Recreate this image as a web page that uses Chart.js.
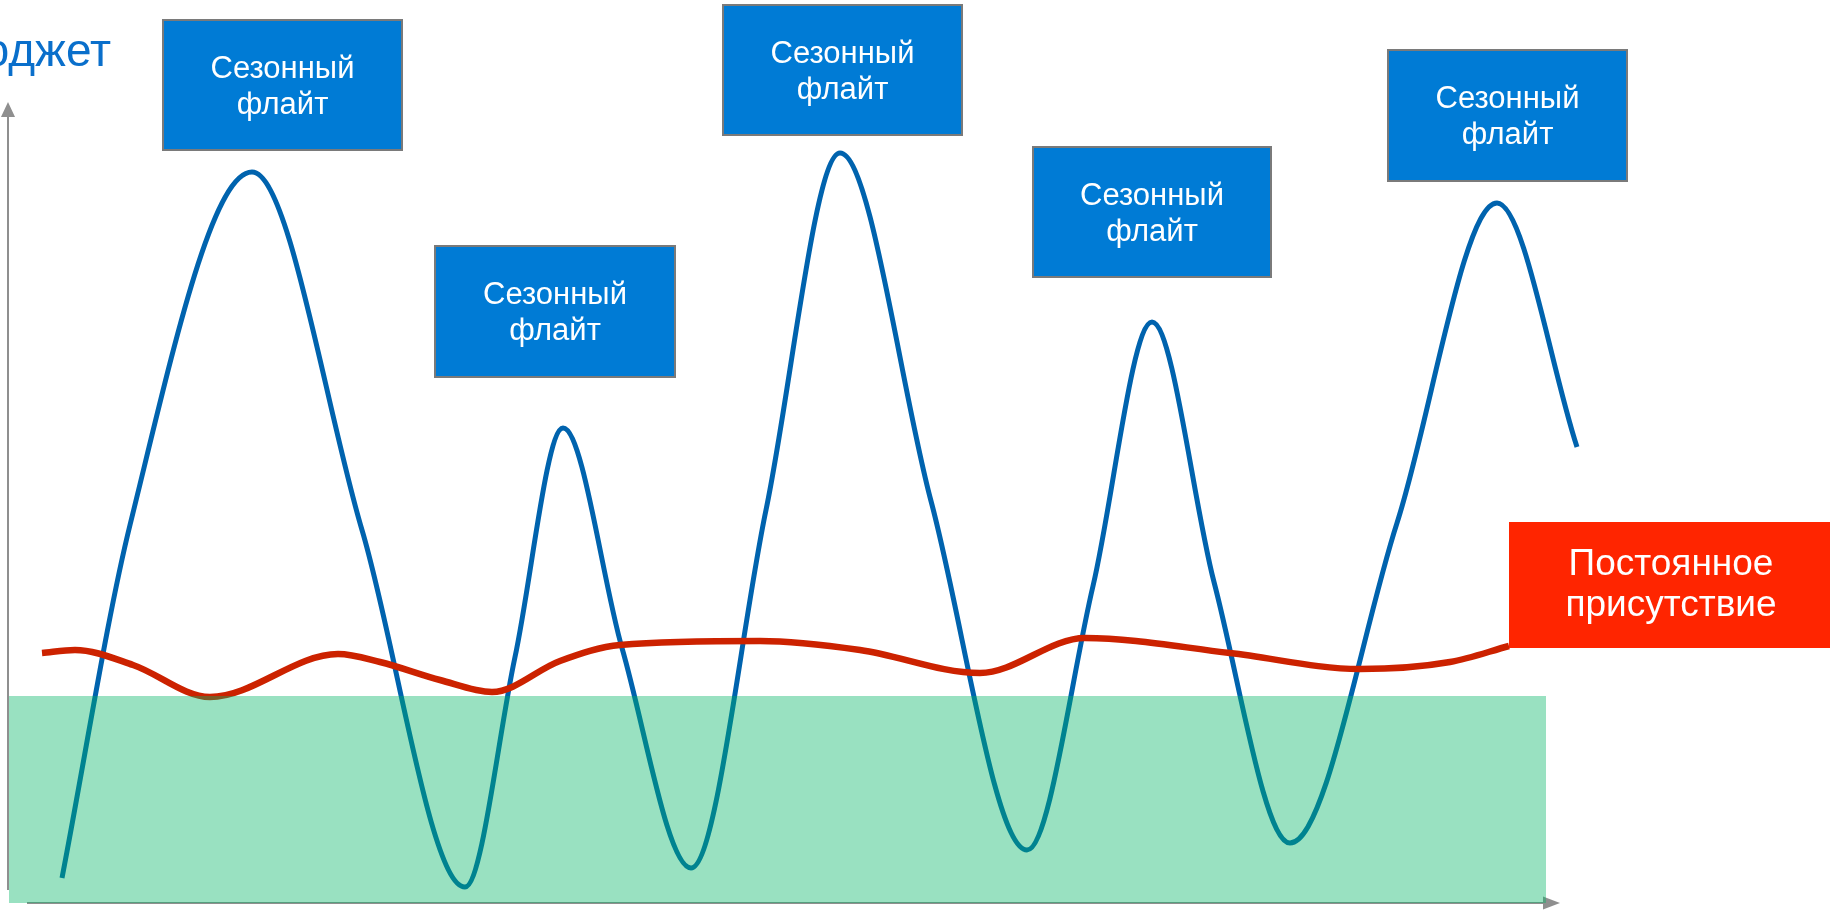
<!DOCTYPE html>
<html>
<head>
<meta charset="utf-8">
<script src="https://cdn.jsdelivr.net/npm/chart.js@4.4.1/dist/chart.umd.min.js"></script>
<style>
html,body{margin:0;padding:0;background:#ffffff;overflow:hidden}
#wrap{position:relative;width:1830px;height:910px}
</style>
</head>
<body>
<div id="wrap"><canvas id="c"></canvas></div>
<script>
// ---- data (x = time, y = budget; abstract units) ----
const seasonalX = [6.2, 13.0, 25.2, 36.2, 46.5, 51.5, 56.3, 62.2, 69.1, 76.6, 84.0, 93.1, 102.7, 109.3, 115.2, 121.4, 129.0, 139.7, 149.7, 157.7];
const seasonalY = [3.2, 38.5, 73.8, 38.0, 2.3, 25.3, 48.2, 26.2, 4.2, 40.0, 75.7, 40.9, 6.0, 32.4, 58.8, 32.8, 6.7, 38.7, 70.7, 46.3];
const constantX = [4.2, 7.5, 13.3, 21.0, 33.8, 38.0, 44.0, 49.2, 56.0, 62.0, 76.0, 86.0, 98.0, 108.5, 123.0, 136.0, 145.0, 150.9];
const constantY = [25.7, 26.0, 24.5, 21.3, 25.6, 24.8, 23.0, 21.8, 24.9, 26.5, 26.9, 26.0, 23.7, 27.2, 25.7, 24.1, 24.8, 26.4];
const baseZoneX = [0.9, 154.6];
const baseZoneY = [21.4, 21.4];
const baseZoneFloor = 0.7;
const flightLabels = [['Сезонный', 'флайт'], ['Сезонный', 'флайт'], ['Сезонный', 'флайт'], ['Сезонный', 'флайт'], ['Сезонный', 'флайт']];
const constantLabel = ['Постоянное', 'присутствие'];
const axisTitle = 'Бюджет';

// ---- layout of the annotation boxes (pixels) ----
const flightBoxes = [
  {x: 163, y: 20, w: 239, h: 130},
  {x: 435, y: 246, w: 240, h: 131},
  {x: 723, y: 5, w: 239, h: 130},
  {x: 1033, y: 147, w: 238, h: 130},
  {x: 1388, y: 50, w: 239, h: 131}
];
const constantBox = {x: 1509, y: 522, w: 340, h: 126};

const toPts = (xs, ys) => xs.map((x, i) => ({x: x, y: ys[i]}));

const decor = {
  id: 'decor',
  beforeDatasetsDraw(chart) {
    const ctx = chart.ctx, sx = chart.scales.x, sy = chart.scales.y;
    const ax = sx.getPixelForValue(0.8);
    const ay = sy.getPixelForValue(0.7);
    ctx.save();
    ctx.strokeStyle = '#8f8f8f';
    ctx.fillStyle = '#8f8f8f';
    ctx.lineWidth = 2;
    // y axis
    ctx.beginPath();
    ctx.moveTo(ax, sy.getPixelForValue(2.0));
    ctx.lineTo(ax, sy.getPixelForValue(79.5));
    ctx.stroke();
    ctx.beginPath();
    ctx.moveTo(ax, sy.getPixelForValue(80.8));
    ctx.lineTo(ax - 7, sy.getPixelForValue(79.3));
    ctx.lineTo(ax + 7, sy.getPixelForValue(79.3));
    ctx.closePath();
    ctx.fill();
    // x axis
    const xEnd = sx.getPixelForValue(154.4);
    ctx.beginPath();
    ctx.moveTo(sx.getPixelForValue(2.7), ay);
    ctx.lineTo(xEnd, ay);
    ctx.stroke();
    ctx.beginPath();
    ctx.moveTo(sx.getPixelForValue(156.0), ay);
    ctx.lineTo(sx.getPixelForValue(154.3), ay - 6.5);
    ctx.lineTo(sx.getPixelForValue(154.3), ay + 6.5);
    ctx.closePath();
    ctx.fill();
    ctx.restore();
  },
  afterDatasetsDraw(chart) {
    const ctx = chart.ctx;
    ctx.save();
    // axis title (clipped at the left edge as in the original)
    ctx.fillStyle = '#0A6FCB';
    ctx.font = '46px "Liberation Sans", Arial, sans-serif';
    ctx.textAlign = 'right';
    ctx.textBaseline = 'alphabetic';
    ctx.fillText(axisTitle, 111, 66);
    // seasonal flight boxes
    ctx.textAlign = 'center';
    ctx.textBaseline = 'middle';
    flightBoxes.forEach((b, i) => {
      ctx.fillStyle = '#007BD5';
      ctx.fillRect(b.x, b.y, b.w, b.h);
      ctx.strokeStyle = '#7a7a7a';
      ctx.lineWidth = 2;
      ctx.strokeRect(b.x, b.y, b.w, b.h);
      ctx.fillStyle = '#ffffff';
      ctx.font = '31px "Liberation Sans", Arial, sans-serif';
      const cx = b.x + b.w / 2, cy = b.y + b.h / 2;
      ctx.fillText(flightLabels[i][0], cx, cy - 16);
      ctx.fillText(flightLabels[i][1], cx, cy + 20);
    });
    // constant presence box
    const c = constantBox;
    ctx.fillStyle = '#FF2500';
    ctx.fillRect(c.x, c.y, c.w, c.h);
    ctx.fillStyle = '#ffffff';
    ctx.font = '37px "Liberation Sans", Arial, sans-serif';
    ctx.fillText(constantLabel[0], 1671, c.y + c.h / 2 - 20);
    ctx.fillText(constantLabel[1], 1671, c.y + c.h / 2 + 21);
    ctx.restore();
  }
};

new Chart(document.getElementById('c'), {
  type: 'scatter',
  data: {
    datasets: [
      {
        label: 'base',
        data: toPts(baseZoneX, baseZoneY),
        showLine: true,
        borderWidth: 0,
        borderColor: 'rgba(0,0,0,0)',
        backgroundColor: 'rgba(0,180,100,0.4)',
        fill: {value: baseZoneFloor},
        pointRadius: 0,
        tension: 0,
        order: 0
      },
      {
        label: 'constant',
        data: toPts(constantX, constantY),
        showLine: true,
        borderColor: '#CC2200',
        borderWidth: 6.5,
        pointRadius: 0,
        cubicInterpolationMode: 'monotone',
        fill: false,
        order: 1
      },
      {
        label: 'seasonal',
        data: toPts(seasonalX, seasonalY),
        showLine: true,
        borderColor: '#0063AE',
        borderWidth: 5,
        pointRadius: 0,
        cubicInterpolationMode: 'monotone',
        fill: false,
        order: 2
      }
    ]
  },
  options: {
    responsive: true,
    maintainAspectRatio: false,
    animation: false,
    layout: {padding: 0},
    plugins: {legend: {display: false}, tooltip: {enabled: false}},
    scales: {
      x: {type: 'linear', min: 0, max: 183, display: false},
      y: {type: 'linear', min: 0, max: 91, display: false}
    }
  },
  plugins: [decor]
});
</script>
</body>
</html>
